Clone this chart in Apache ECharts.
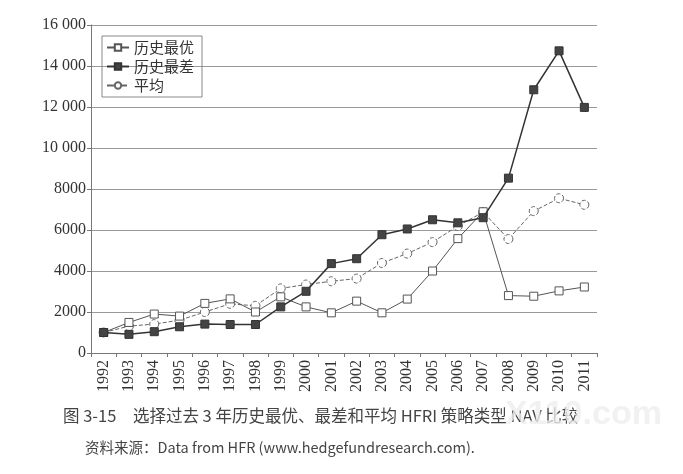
<!DOCTYPE html>
<html>
<head>
<meta charset="utf-8">
<script src="https://cdn.jsdelivr.net/npm/echarts@6/dist/echarts.min.js"></script>
<style>
  html, body { margin: 0; padding: 0; background: #fff; }
  #main { width: 683px; height: 474px; }
</style>
</head>
<body>
<div id="main"></div>
<script>
var years = ['1992', '1993', '1994', '1995', '1996', '1997', '1998', '1999', '2000', '2001',
    '2002', '2003', '2004', '2005', '2006', '2007', '2008', '2009', '2010', '2011'];
// 历史最优
var bestValues = [1000, 1490, 1900, 1800, 2420, 2640, 2000, 2740, 2250, 1960,
    2530, 1960, 2630, 4000, 5580, 6890, 2800, 2770, 3030, 3220];
// 历史最差
var worstValues = [1000, 910, 1040, 1280, 1410, 1390, 1390, 2250, 3010, 4360,
    4600, 5770, 6050, 6500, 6350, 6600, 8530, 12840, 14740, 11980];
// 平均
var avgValues = [1000, 1310, 1410, 1600, 2000, 2400, 2300, 3150, 3340, 3500,
    3630, 4390, 4850, 5410, 6190, 6870, 5560, 6920, 7550, 7230];

var seriesNames = ['历史最优', '历史最差', '平均'];

var dom = document.getElementById('main');
var myChart = echarts.init(dom, null, { renderer: 'canvas' });

var serif = '"Liberation Serif", "DejaVu Serif", serif';
var cjk = '"Noto Sans CJK SC", "Liberation Serif", serif';

var option = {
    backgroundColor: '#fff',
    animation: false,
    grid: { left: 91, right: 86, top: 25, bottom: 121 },
    legend: {
        orient: 'vertical',
        left: 102,
        top: 36,
        padding: [4, 8, 4, 4],
        itemGap: 4,
        itemWidth: 22,
        itemHeight: 8,
        borderColor: '#888',
        borderWidth: 1,
        textStyle: { fontFamily: cjk, fontSize: 15, color: '#333' },
        data: seriesNames
    },
    xAxis: {
        type: 'category',
        data: years,
        boundaryGap: true,
        axisLine: { lineStyle: { color: '#777', width: 1 } },
        axisTick: { show: true, length: 4, lineStyle: { color: '#777' } },
        axisLabel: {
            rotate: 90,
            interval: 0,
            margin: 7,
            fontFamily: serif,
            fontSize: 16,
            color: '#333'
        }
    },
    yAxis: {
        type: 'value',
        min: 0,
        max: 16000,
        interval: 2000,
        axisLine: { show: true, lineStyle: { color: '#777', width: 1 } },
        axisTick: { show: true, length: 4, lineStyle: { color: '#777' } },
        splitLine: { lineStyle: { color: '#999', width: 1 } },
        axisLabel: {
            margin: 5,
            fontFamily: serif,
            fontSize: 16,
            color: '#333',
            formatter: function (v) {
                if (v >= 10000) {
                    var s = String(v);
                    return s.slice(0, s.length - 3) + ' ' + s.slice(-3);
                }
                return String(v);
            }
        }
    },
    series: [
        {
            name: seriesNames[0],
            type: 'line',
            data: bestValues,
            symbol: 'rect',
            symbolSize: 8,
            lineStyle: { color: '#555', width: 1 },
            itemStyle: { color: '#fff', borderColor: '#555', borderWidth: 1 },
            z: 3
        },
        {
            name: seriesNames[1],
            type: 'line',
            data: worstValues,
            symbol: 'rect',
            symbolSize: 8,
            lineStyle: { color: '#333', width: 1.5 },
            itemStyle: { color: '#444', borderColor: '#333', borderWidth: 1 },
            z: 4
        },
        {
            name: seriesNames[2],
            type: 'line',
            data: avgValues,
            symbol: 'circle',
            symbolSize: 9,
            lineStyle: { color: '#666', width: 1, type: 'dashed' },
            itemStyle: { color: '#fff', borderColor: '#666', borderWidth: 1, borderType: 'dashed' },
            z: 2
        }
    ],
    graphic: [
        {
            type: 'text',
            left: 63,
            top: 407,
            style: {
                text: '图 3-15　选择过去 3 年历史最优、最差和平均 HFRI 策略类型 NAV 比较',
                font: '16.5px "Noto Sans CJK SC", "Liberation Serif", serif',
                fill: '#444'
            }
        },
        {
            type: 'text',
            left: 505,
            top: 398,
            style: {
                text: 'X110.com',
                font: 'bold 34px "Liberation Sans", sans-serif',
                fill: 'rgba(238,238,238,0.8)'
            }
        },
        {
            type: 'text',
            left: 85,
            top: 440,
            style: {
                text: '资料来源：Data from HFR (www.hedgefundresearch.com).',
                font: '14.5px "Noto Sans CJK SC", "Liberation Serif", serif',
                fill: '#444'
            }
        }
    ]
};

myChart.setOption(option);
window.addEventListener('resize', myChart.resize);
</script>
</body>
</html>
